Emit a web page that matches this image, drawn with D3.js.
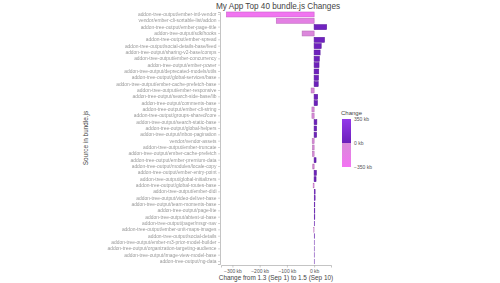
<!DOCTYPE html>
<html>
<head>
<meta charset="utf-8">
<script src="https://cdn.jsdelivr.net/npm/d3@7"></script>
<style>
	body { margin: 0; background: #fff; }
	svg { font-family: "Liberation Sans", Arial, sans-serif; }
</style>
</head>
<body>
<svg id="chart" width="500" height="283"></svg>
<script>
// Sources, top to bottom
const sources = [
	"addon-tree-output/ember-intl-vendor",
	"vendor/ember-cli-sortable-list/addon",
	"addon-tree-output/ember-page-title",
	"addon-tree-output/sdk/hooks",
	"addon-tree-output/ember-spread",
	"addon-tree-output/social-details-base/feed",
	"addon-tree-output/sharing-v2-base/comps",
	"addon-tree-output/ember-concurrency",
	"addon-tree-output/ember-power",
	"addon-tree-output/deprecated-models/utils",
	"addon-tree-output/global-services/base",
	"addon-tree-output/ember-cache-prefetch-base",
	"addon-tree-output/ember-responsive",
	"addon-tree-output/search-side-base/lib",
	"addon-tree-output/comments-base",
	"addon-tree-output/ember-cli-string",
	"addon-tree-output/groups-shared/core",
	"addon-tree-output/search-static-base",
	"addon-tree-output/global-helpers",
	"addon-tree-output/inbox-pagination",
	"vendor/vendor-assets",
	"addon-tree-output/ember-truncate",
	"addon-tree-output/ember-cache-prefetch",
	"addon-tree-output/ember-premium-data",
	"addon-tree-output/modules/locale-copy",
	"addon-tree-output/ember-entry-point",
	"addon-tree-output/global-initializers",
	"addon-tree-output/global-routes-base",
	"addon-tree-output/ember-didi",
	"addon-tree-output/video-deliver-base",
	"addon-tree-output/team-moments-base",
	"addon-tree-output/page-lite",
	"addon-tree-output/abtest-ui-base",
	"addon-tree-output/pager/msgr-nav",
	"addon-tree-output/ember-unit-maps-images",
	"addon-tree-output/social-details",
	"addon-tree-output/ember-m3-prior-model-builder",
	"addon-tree-output/organization-targeting-audience",
	"addon-tree-output/image-view-model-base",
	"addon-tree-output/ng-data"
]

// Change in kb for each source
const changes = [
	-322, -139, 46, -44, 38, 26, 22, 19, 18, 17,
	16, 15, -11, 13, 12, -8, -8, 10, 9, 9,
	-7, -6, -6, 7, -5, 8, 7, -4, 4, 4,
	3, 3, 3, 2, -2, 2, 1, 1, 1, 1
]

const xTicks = [-300, -200, -100, 0]
const legendTicks = [350, 0, -350]

const svg = d3.select("#chart")

const x = d3.scaleLinear()
	.domain([-342, 62])
	.range([221, 331])

const y = d3.scaleBand()
	.domain(sources)
	.range([12, 264])
	.paddingInner(0.22)

// Two halves with a jump at zero, as in the legend
const negColor = d3.scaleLinear().domain([-350, 0]).range(["#f372f3", "#d98ad9"])
const posColor = d3.scaleLinear().domain([0, 350]).range(["#6b1fba", "#9438ea"])
const color = v => v < 0 ? negColor(v) : posColor(v)

// Soft blur for the obscured source names
const defs = svg.append("defs")
defs.append("filter")
	.attr("id", "soft")
	.append("feGaussianBlur")
	.attr("stdDeviation", 0.55)

// Bars
svg.append("g")
	.selectAll("rect")
	.data(changes)
	.join("rect")
	.attr("x", d => x(Math.min(0, d)))
	.attr("y", (d, i) => y(sources[i]))
	.attr("width", d => Math.abs(x(d) - x(0)))
	.attr("height", y.bandwidth())
	.attr("fill", d => color(d))
	.attr("stroke", d => d3.color(color(d)).darker(0.5))
	.attr("stroke-width", d => Math.abs(d) < 5 ? 0.3 : 0.6)

// x axis
const xAxis = svg.append("g")
	.attr("transform", "translate(0,265)")
	.call(d3.axisBottom(x).tickValues(xTicks).tickSize(2.5).tickPadding(1.5)
		.tickFormat(d => d3.format("")(d).replace("-", "\u2212") + " kb"))
xAxis.select(".domain").attr("stroke", "#aaa").attr("stroke-width", 0.7)
xAxis.selectAll(".tick line").attr("stroke", "#aaa").attr("stroke-width", 0.6)
xAxis.selectAll("text").attr("font-size", 5).attr("fill", "#555")

// y axis
const yAxis = svg.append("g")
	.attr("transform", "translate(220,0)")
	.call(d3.axisLeft(y).tickSize(2).tickPadding(1.5))
yAxis.select(".domain").attr("stroke", "#aaa").attr("stroke-width", 0.7)
yAxis.selectAll(".tick line").attr("stroke", "#aaa").attr("stroke-width", 0.5)
yAxis.selectAll("text")
	.attr("font-size", 4.9)
	.attr("fill", "#999")
	.attr("filter", "url(#soft)")

// Titles
svg.append("text")
	.attr("x", 278).attr("y", 9)
	.attr("text-anchor", "middle")
	.attr("font-size", 8.2)
	.attr("fill", "#444")
	.text("My App Top 40 bundle.js Changes")

svg.append("text")
	.attr("x", 276).attr("y", 280)
	.attr("text-anchor", "middle")
	.attr("font-size", 6.4)
	.attr("fill", "#444")
	.text("Change from 1.3 (Sep 1) to 1.5 (Sep 10)")

svg.append("text")
	.attr("transform", "translate(88,138) rotate(-90)")
	.attr("text-anchor", "middle")
	.attr("font-size", 6.4)
	.attr("fill", "#444")
	.text("Source in bundle.js")

// Legend
const lg = svg.append("g")
const ly = d3.scaleLinear().domain([350, -350]).range([119, 167])

const grad = defs.append("linearGradient")
	.attr("id", "legendGrad")
	.attr("x1", 0).attr("x2", 0).attr("y1", 0).attr("y2", 1)
grad.selectAll("stop")
	.data([
		{o: 0, c: posColor(350)},
		{o: 0.5, c: posColor(0)},
		{o: 0.5, c: negColor(0)},
		{o: 1, c: negColor(-350)}
	])
	.join("stop")
	.attr("offset", d => d.o)
	.attr("stop-color", d => d.c)

lg.append("rect")
	.attr("x", 342).attr("y", ly(350))
	.attr("width", 9).attr("height", ly(-350) - ly(350))
	.attr("fill", "url(#legendGrad)")

lg.append("text")
	.attr("x", 341).attr("y", 115)
	.attr("font-size", 6)
	.attr("fill", "#444")
	.text("Change")

lg.selectAll("text.lab")
	.data(legendTicks)
	.join("text")
	.attr("class", "lab")
	.attr("x", 354)
	.attr("y", d => ly(d) + 1.8)
	.attr("font-size", 5)
	.attr("fill", "#555")
	.text(d => String(d).replace("-", "\u2212") + " kb")
</script>
</body>
</html>
